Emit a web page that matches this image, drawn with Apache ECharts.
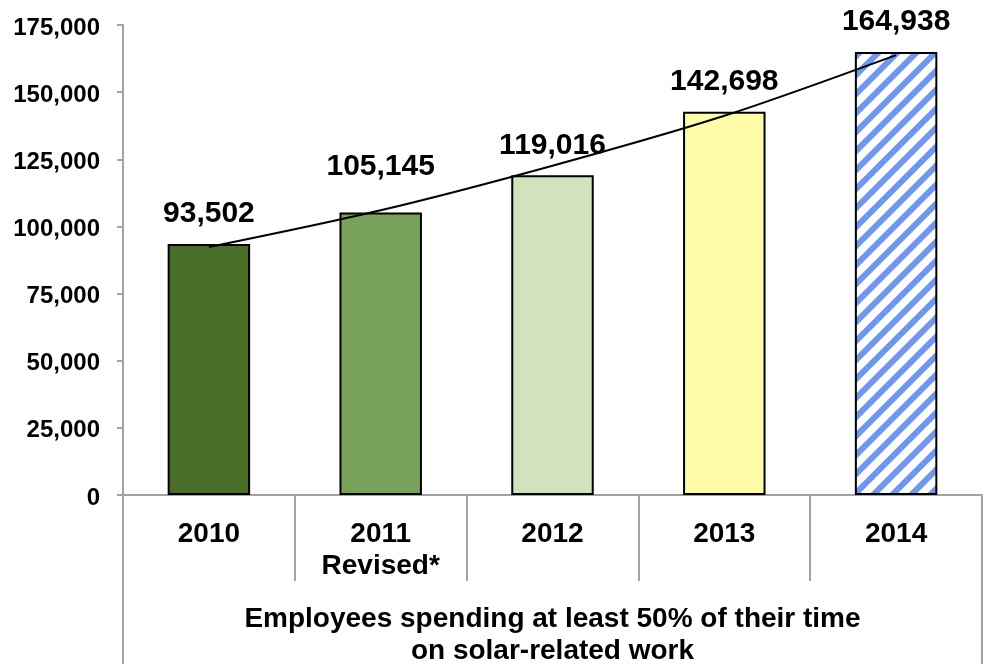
<!DOCTYPE html>
<html>
<head>
<meta charset="utf-8">
<script src="https://cdn.jsdelivr.net/npm/echarts@6/dist/echarts.min.js"></script>
<style>
  html, body { margin: 0; padding: 0; background: #ffffff; }
  #chart { width: 986px; height: 664px; }
</style>
</head>
<body>
<div id="chart"></div>
<script>
// Solar employment by year (employees spending >= 50% of their time on solar work)
const years = ['2010', '2011\nRevised*', '2012', '2013', '2014'];
const employees = [93502, 105145, 119016, 142698, 164938];
// Trendline values at each year
const trend = [92300, 106000, 122600, 141200, 163800];
const groupLabel = ['Employees spending at least 50% of their time\non solar-related work'];
const yTicks = [0, 25000, 50000, 75000, 100000, 125000, 150000, 175000];

const FONT = '"Liberation Sans", Arial, sans-serif';
const AXIS_GREY = '#a3a3a3';
const fmt = v => Number(v).toLocaleString('en-US');

// Diagonal blue hatch for the 2014 bar (seamless "/" stripes)
function makeHatch() {
  const P = 19;
  const c = document.createElement('canvas');
  c.width = P; c.height = P;
  const g = c.getContext('2d');
  g.fillStyle = '#ffffff';
  g.fillRect(0, 0, P, P);
  g.strokeStyle = '#6F97EF';
  g.lineWidth = 6;
  for (let k = -2; k <= 2; k++) {
    g.beginPath();
    g.moveTo(k * P - P, 2 * P);
    g.lineTo(k * P + 2 * P, -P);
    g.stroke();
  }
  return c;
}

const fills = ['#4A6E28', '#78A257', '#D0E3BC', '#FFFCA8', { image: makeHatch(), repeat: 'repeat' }];

const barData = employees.map((v, i) => {
  const item = { value: v, itemStyle: { color: fills[i] } };
  if (i === 1) item.label = { distance: 31 };
  return item;
});

const chart = echarts.init(document.getElementById('chart'), null, { renderer: 'canvas' });
chart.setOption({
  animation: false,
  backgroundColor: '#ffffff',
  grid: {
    left: 123, right: 4, top: 25, bottom: 169,
    containLabel: false, outerBoundsMode: 'none'
  },
  xAxis: [
    {
      type: 'category',
      data: years,
      position: 'bottom',
      axisLine: { show: true, lineStyle: { color: AXIS_GREY, width: 2 } },
      axisTick: { show: true, length: 86, alignWithLabel: false, lineStyle: { color: AXIS_GREY, width: 2 } },
      axisLabel: {
        margin: 23, color: '#000', fontFamily: FONT, fontWeight: 'bold',
        fontSize: 28, lineHeight: 32, interval: 0
      },
      splitLine: { show: false }
    },
    {
      type: 'category',
      data: groupLabel,
      position: 'bottom',
      offset: 0,
      axisLine: { show: false },
      axisTick: { show: true, length: 169, alignWithLabel: false, lineStyle: { color: AXIS_GREY, width: 2 } },
      axisLabel: {
        margin: 108, color: '#000', fontFamily: FONT, fontWeight: 'bold',
        fontSize: 28, lineHeight: 32, align: 'center'
      },
      splitLine: { show: false }
    }
  ],
  yAxis: {
    type: 'value',
    min: yTicks[0],
    max: yTicks[yTicks.length - 1],
    interval: yTicks[1] - yTicks[0],
    axisLine: { show: true, lineStyle: { color: AXIS_GREY, width: 2 } },
    axisTick: { show: true, length: 6, lineStyle: { color: AXIS_GREY, width: 2 } },
    axisLabel: {
      margin: 23, color: '#000', fontFamily: FONT, fontWeight: 'bold', fontSize: 24,
      verticalAlign: 'top', lineHeight: 6,
      formatter: fmt
    },
    splitLine: { show: false }
  },
  series: [
    {
      type: 'bar',
      xAxisIndex: 0,
      data: barData,
      barWidth: '48%',
      itemStyle: { borderColor: '#000', borderWidth: 2 },
      label: {
        show: true, position: 'top', distance: 15,
        color: '#000', fontFamily: FONT, fontWeight: 'bold', fontSize: 30,
        formatter: p => fmt(p.value)
      },
      z: 2
    },
    {
      type: 'line',
      xAxisIndex: 0,
      data: trend,
      smooth: 0.3,
      symbol: 'none',
      lineStyle: { color: '#000', width: 2 },
      z: 3
    }
  ]
});
</script>
</body>
</html>
